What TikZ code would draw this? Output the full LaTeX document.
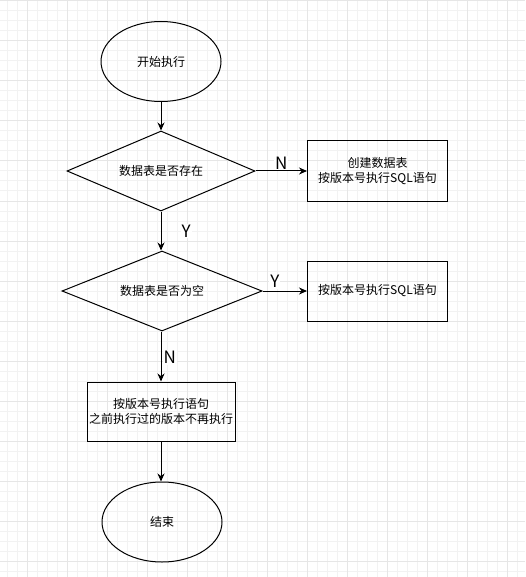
\documentclass[tikz,border=0pt]{standalone}
\usepackage{fontspec}
\setmainfont{Noto Sans CJK SC}
\usetikzlibrary{arrows.meta, positioning, shapes.geometric}
\definecolor{gridminor}{HTML}{F2F2F2}
\definecolor{gridmajor}{HTML}{E6E6E6}

\begin{document}
\begin{tikzpicture}[x=1pt, y=-1pt, line width=1pt,
  every node/.style={font=\fontsize{12}{15}\selectfont, align=center},
  terminal/.style={draw, ellipse, minimum width=120pt, minimum height=80pt, inner sep=0pt},
  decision/.style={draw, diamond, aspect=2.4, inner sep=0pt},
  process/.style={draw, rectangle, minimum width=140pt, minimum height=60pt, inner sep=2pt},
  flow/.style={-{Stealth[length=8pt, width=7pt]}},
  branch/.style={fill=white, inner sep=1pt, font=\fontsize{17}{17}\selectfont}]
% Page and grid
\useasboundingbox (0,0) rectangle (525,577);
\fill[white] (0,0) rectangle (525,577);
\foreach \gx in {7,17,...,517} \draw[gridminor] (\gx,0) -- (\gx,577);
\foreach \gy in {1,11,...,571} \draw[gridminor] (0,\gy) -- (525,\gy);
\foreach \gx in {27,67,...,507} \draw[gridmajor] (\gx,0) -- (\gx,577);
\foreach \gy in {1,41,...,561} \draw[gridmajor] (0,\gy) -- (525,\gy);
% Nodes
\node[terminal] (start) at (161,61.5) {开始执行};
\node[decision, minimum width=188pt, minimum height=80pt] (exists) at (161,171) {数据表是否存在};
\node[process] (create) at (377.5,171) {创建数据表\\按版本号执行SQL语句};
\node[decision, minimum width=200pt, minimum height=80pt] (empty) at (162,291) {数据表是否为空};
\node[process] (runsql) at (377.5,291) {按版本号执行SQL语句};
\node[process, minimum width=146pt, minimum height=59pt] (runall) at (161,411.5) {按版本号执行语句\\之前执行过的版本不再执行};
\node[terminal] (finish) at (162,522) {结束};
% Arrows
\draw[flow] (start) -- (exists);
\draw[flow] (exists) -- (create) node[branch, midway, above=0pt] (noA) {N};
\draw[flow] (exists.south) -- (exists.south |- empty.north) node[branch, midway, right=19pt] (yesA) {Y};
\draw[flow] (empty) -- (runsql) node[branch, pos=0.28, above=2pt] (yesB) {Y};
\draw[flow] (exists.south |- empty.south) -- (runall) node[branch, pos=0.52, right=1pt] (noB) {N};
\draw[flow] (runall) -- (runall |- finish.north);
\end{tikzpicture}
\end{document}
